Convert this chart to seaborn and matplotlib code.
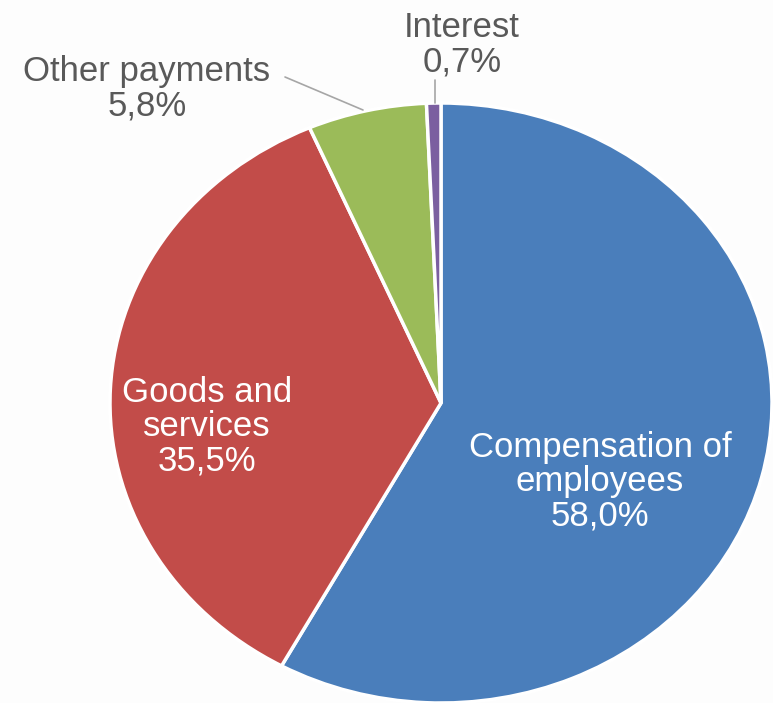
import matplotlib
matplotlib.use("Agg")
import matplotlib.pyplot as plt
import seaborn as sns

# Government expenditure structure, share of total (%)
categories = ["Compensation of employees", "Goods and services", "Other payments", "Interest"]
shares = [58.0, 35.5, 5.8, 0.7]
label_texts = ["Compensation of\nemployees\n58,0%",
               "Goods and\nservices\n35,5%",
               "Other payments\n5,8%",
               "Interest\n0,7%"]
colors = ["#4a7ebb", "#c24c49", "#9bbb59", "#7b5fa0"]

sns.set_theme(style="white")
plt.rcParams["font.family"] = ["Liberation Sans", "DejaVu Sans"]

W, H = 773, 703
fig = plt.figure(figsize=(W / 100, H / 100), dpi=100)
fig.patch.set_facecolor("#fdfdfd")
ax = fig.add_axes([0, 0, 1, 1])
ax.set_facecolor("#fdfdfd")

wedges, _ = ax.pie(shares, colors=colors, startangle=90, counterclock=False,
                   wedgeprops=dict(edgecolor="white", linewidth=2.5))

# pie centre and radii in pixels (slightly wider than tall)
cx, cy, rx, ry = 441, 403, 331, 300
ax.set_aspect("auto")
ax.set_xlim(-cx / rx, (W - cx) / rx)
ax.set_ylim(-(H - cy) / ry, cy / ry)
ax.axis("off")


def to_data(px, py):
    return (px - cx) / rx, (cy - py) / ry


fs = 25
# labels inside the two large slices
for text, (px, py) in zip(label_texts[:2], [(600, 482), (207, 427)]):
    x, y = to_data(px, py)
    ax.text(x, y, text, ha="center", va="center", color="white",
            fontsize=fs, linespacing=1.05)

# labels outside the small slices, with leader lines
for text, (px, py) in zip(label_texts[2:], [(147, 89), (462, 45)]):
    x, y = to_data(px, py)
    ax.text(x, y, text, ha="center", va="center", color="#595959",
            fontsize=fs, linespacing=1.05)

for (p0, p1) in [((285, 77), (363, 110)), ((435, 80), (435, 103))]:
    x0, y0 = to_data(*p0)
    x1, y1 = to_data(*p1)
    ax.plot([x0, x1], [y0, y1], color="#a6a6a6", linewidth=1.2)

fig.savefig("out.png", dpi=100, facecolor=fig.get_facecolor())
